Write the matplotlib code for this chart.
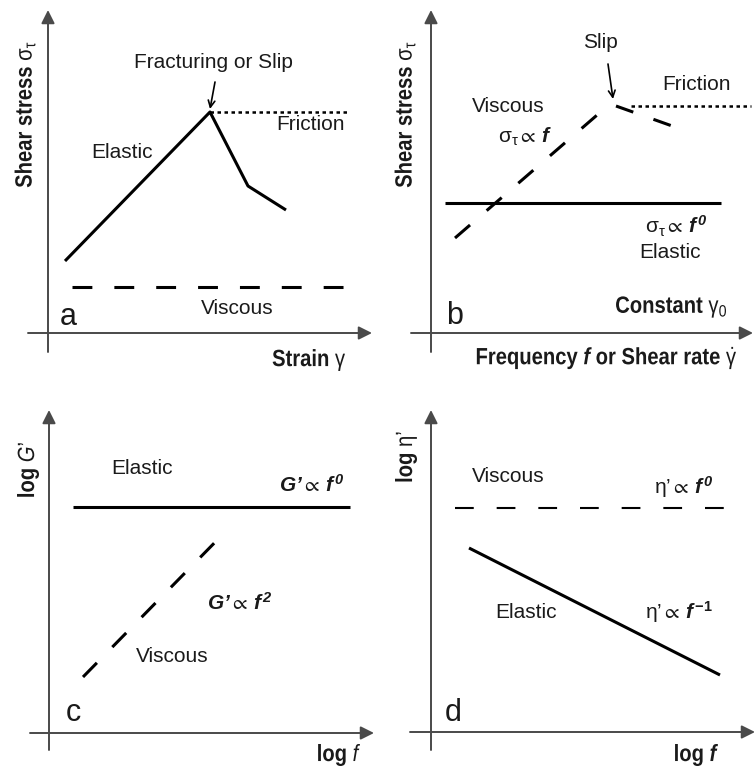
import matplotlib
matplotlib.use("Agg")
import matplotlib.pyplot as plt
from matplotlib.font_manager import FontProperties
from matplotlib.textpath import TextPath
from matplotlib.patches import PathPatch
from matplotlib.transforms import Affine2D

plt.rcParams["font.family"] = ["Liberation Sans", "DejaVu Sans"]
plt.rcParams["mathtext.fontset"] = "custom"
plt.rcParams["mathtext.rm"] = "Liberation Sans"
plt.rcParams["mathtext.it"] = "Liberation Sans:italic"
plt.rcParams["mathtext.bf"] = "Liberation Sans:bold"
plt.rcParams["mathtext.bfit"] = "Liberation Sans:italic:bold"
plt.rcParams["mathtext.fallback"] = "stixsans"

# ---- sketch geometry (pixel frame, y grows downward) ----
# panel a: stress vs strain
a_elastic_x = [65, 210, 248, 286]
a_elastic_y = [261, 112, 186, 210]
a_friction_x = [210, 350]
a_friction_y = [112, 112]
a_viscous_x = [72, 347]
a_viscous_y = [287, 287]

# panel b: stress vs frequency
b_elastic_x = [445, 721]
b_elastic_y = [203, 203]
b_viscous_x = [455, 611]
b_viscous_y = [238, 103]
b_slip_x = [616, 675]
b_slip_y = [106, 127]
b_friction_x = [631, 751]
b_friction_y = [106, 106]

# panel c: log G' vs log f
c_elastic_x = [73, 350]
c_elastic_y = [507, 507]
c_viscous_x = [83, 229]
c_viscous_y = [677, 528]

# panel d: log eta' vs log f
d_viscous_x = [455, 730]
d_viscous_y = [508, 508]
d_elastic_x = [469, 720]
d_elastic_y = [548, 675]

# axis frames: (origin x, origin y, x-axis start, x-axis tip, y-axis bottom, y-axis tip)
frames = [
    (48, 333, 28, 372, 352, 10),
    (431, 333, 411, 753, 352, 10),
    (49, 733, 30, 374, 750, 410),
    (431, 732, 410, 755, 750, 410),
]

fig = plt.figure(figsize=(7.56, 7.75), dpi=100)
ax = fig.add_axes([0, 0, 1, 1])
ax.set_xlim(0, 756)
ax.set_ylim(775, 0)
ax.axis("off")

BOLD = FontProperties(family="Liberation Sans", weight="bold")


def narrow_text(x, y, s, em=23.5, sx=0.86, ha="center", va="center", rotation=0):
    """Bold title drawn as a path, squeezed horizontally like a condensed face."""
    tp = TextPath((0, 0), s, size=em, prop=BOLD)
    ext = tp.get_extents()
    px = {"left": ext.x0, "center": (ext.x0 + ext.x1) / 2, "right": ext.x1}[ha]
    py = {"bottom": ext.y0, "center": (ext.y0 + ext.y1) / 2, "top": ext.y1}[va]
    tr = (Affine2D().translate(-px, -py).scale(sx, -1)
          .rotate_deg(-rotation).translate(x, y))
    ax.add_patch(PathPatch(tr.transform_path(tp), facecolor="#1a1a1a",
                           edgecolor="none", transform=ax.transData))


axis_col = "#4a4a4a"
for ox, oy, x0, x1, y0, y1 in frames:
    ax.annotate("", xy=(x1, oy), xytext=(x0, oy),
                arrowprops=dict(arrowstyle="-|>", color=axis_col, lw=1.4,
                                mutation_scale=20, shrinkA=0, shrinkB=0))
    ax.annotate("", xy=(ox, y1), xytext=(ox, y0),
                arrowprops=dict(arrowstyle="-|>", color=axis_col, lw=1.4,
                                mutation_scale=20, shrinkA=0, shrinkB=0))

solid = dict(color="black", lw=2.2, solid_capstyle="butt")
dash = dict(color="black", lw=2.2, dashes=(6.5, 7.2), dash_capstyle="butt")
dot = dict(color="black", lw=1.8, dashes=(1.4, 1.4), dash_capstyle="butt")

ax.plot(a_elastic_x, a_elastic_y, **solid)
ax.plot(a_friction_x, a_friction_y, **dot)
ax.plot(a_viscous_x, a_viscous_y, **dash)

ax.plot(b_elastic_x, b_elastic_y, **solid)
ax.plot(b_viscous_x, b_viscous_y, **dash)
ax.plot(b_slip_x, b_slip_y, color="black", lw=2.2, dashes=(6.0, 7.0))
ax.plot(b_friction_x, b_friction_y, **dot)

ax.plot(c_elastic_x, c_elastic_y, **solid)
ax.plot(c_viscous_x, c_viscous_y, **dash)

ax.plot(d_viscous_x, d_viscous_y, color="black", lw=1.5, dashes=(9, 11))
ax.plot(d_elastic_x, d_elastic_y, **solid)

# pointer arrows
ax.annotate("", xy=(210, 109), xytext=(215, 82),
            arrowprops=dict(arrowstyle="->", color="black", lw=1.2, mutation_scale=12,
                            shrinkA=0, shrinkB=0))
ax.annotate("", xy=(613, 99), xytext=(608, 64),
            arrowprops=dict(arrowstyle="->", color="black", lw=1.2, mutation_scale=12,
                            shrinkA=0, shrinkB=0))

P = "\u2019"  # prime mark as used on G' and eta'
lab = dict(fontsize=15, ha="center", va="center", color="#1a1a1a")
# panel a text
ax.text(213, 63, "Fracturing or Slip", **lab)
ax.text(311, 125, "Friction", **lab)
ax.text(122, 152, "Elastic", **lab)
ax.text(237, 308, "Viscous", **lab)

# panel b text
ax.text(600, 43, "Slip", **lab)
ax.text(696, 85, "Friction", **lab)
ax.text(508, 106, "Viscous", **lab)
ax.text(525, 137, r"$\mathrm{\sigma_{\tau}}\propto\,\mathbfit{f}$", **lab)
ax.text(676, 226, r"$\mathrm{\sigma_{\tau}}\propto\,\mathbfit{f}^{\,\mathbfit{0}}$", **lab)
ax.text(670, 253, "Elastic", **lab)

# panel c text
ax.text(142, 468, "Elastic", **lab)
ax.text(312, 485, r"$\mathbfit{G" + P + r"}\propto\,\mathbfit{f}^{\,\mathbfit{0}}$", **lab)
ax.text(240, 603, r"$\mathbfit{G" + P + r"}\propto\,\mathbfit{f}^{\,\mathbfit{2}}$", **lab)
ax.text(172, 657, "Viscous", **lab)

# panel d text
ax.text(508, 476, "Viscous", **lab)
ax.text(684, 487, r"$\mathrm{\eta" + P + r"}\propto\,\mathbfit{f}^{\,\mathbfit{0}}$", **lab)
ax.text(526, 612, "Elastic", **lab)
ax.text(679, 612, r"$\mathrm{\eta" + P + r"}\propto\,\mathbfit{f}^{\,\mathbf{-1}}$", **lab)

# panel letters
for x, y, s in [(68, 317, "a"), (455, 316, "b"), (73, 713, "c"), (453, 713, "d")]:
    ax.text(x, y, s, fontsize=22, ha="center", va="center", color="#1a1a1a")

# axis titles
narrow_text(345, 360, r"Strain $\mathrm{\gamma}$", ha="right")
narrow_text(726, 307, r"Constant $\mathrm{\gamma_0}$", ha="right")
narrow_text(736, 358, r"Frequency $\mathbfit{f}$ or Shear rate $\dot{\mathrm{\gamma}}$", ha="right")
narrow_text(360, 755, r"log $\mathit{f}$", ha="right")
narrow_text(718, 755, r"log $\mathbfit{f}$", ha="right")
narrow_text(25, 115, r"Shear stress $\mathrm{\sigma_{\tau}}$", rotation=90)
narrow_text(405, 115, r"Shear stress $\mathrm{\sigma_{\tau}}$", rotation=90)
narrow_text(28, 470, r"log $\mathit{G" + P + "}$", rotation=90)
narrow_text(406, 457, r"log $\mathrm{\eta" + P + "}$", rotation=90)

fig.savefig("out.png", dpi=100, facecolor="white")
